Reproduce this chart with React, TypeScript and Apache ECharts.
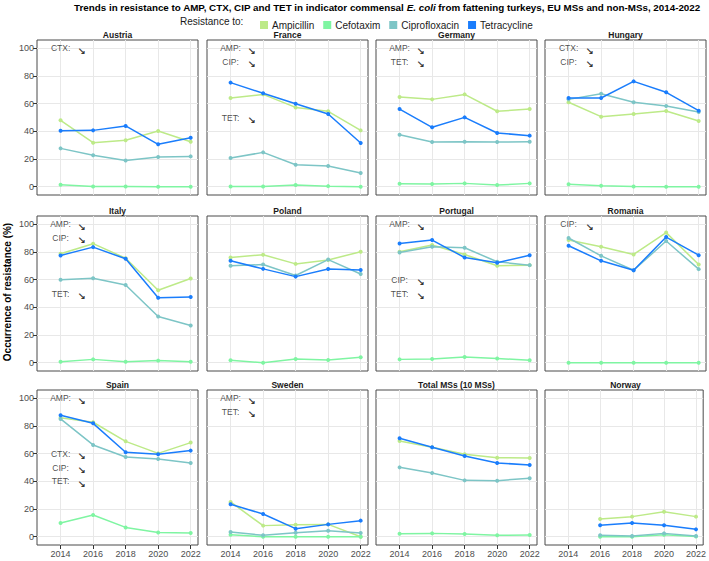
import React, { useEffect, useRef } from "react";
import * as echarts from "echarts";

const years = [2014, 2016, 2018, 2020, 2022];
const countries = [
  "Austria", "France", "Germany", "Hungary",
  "Italy", "Poland", "Portugal", "Romania",
  "Spain", "Sweden", "Total MSs (10 MSs)", "Norway",
];
const yTicks = [0, 20, 40, 60, 80, 100];

// values per country, order as in countries
const ampicillin: (number | null)[][] = [
  [48.0, 31.8, 33.5, 40.2, 32.5],
  [64.1, 66.7, 57.3, 54.5, 40.7],
  [64.8, 63.1, 66.7, 54.5, 56.1],
  [61.0, 50.6, 52.5, 54.7, 47.5],
  [78.7, 86.0, 75.5, 52.3, 60.8],
  [76.0, 78.0, 71.4, 74.2, 80.2],
  [80.1, 85.0, 78.2, 70.0, 70.5],
  [88.6, 83.8, 78.2, 94.0, 70.9],
  [86.0, 82.7, 68.9, 60.2, 68.0],
  [25.1, 8.0, 8.7, 8.9, 0],
  [69.2, 64.6, 59.5, 57.1, 56.9],
  [null, 12.8, 14.5, 18.1, 14.5],
];
const cefotaxim: (number | null)[][] = [
  [1.4, 0.2, 0.2, 0, 0],
  [0.2, 0.2, 1.2, 0.4, 0],
  [2.2, 1.9, 2.4, 1.2, 2.4],
  [1.7, 0.7, 0.2, 0, 0],
  [0.7, 2.4, 0.7, 1.5, 0.7],
  [1.7, 0, 2.7, 1.9, 3.9],
  [2.4, 2.7, 4.1, 3.1, 1.7],
  [0, 0, 0, 0, 0],
  [9.9, 15.7, 6.7, 3.1, 2.7],
  [1.4, 0, 0, 0, 0],
  [2.2, 2.4, 1.9, 1.0, 1.2],
  [null, 0, 0, 1.4, 0.2],
];
const ciprofloxacin: (number | null)[][] = [
  [27.7, 22.7, 19.0, 21.4, 21.9],
  [20.7, 24.8, 15.9, 14.9, 9.9],
  [37.6, 32.3, 32.5, 32.3, 32.5],
  [63.1, 67.2, 61.0, 58.3, 54.0],
  [60.0, 61.0, 56.2, 33.4, 26.9],
  [70.0, 70.9, 63.0, 74.5, 64.1],
  [79.7, 83.8, 83.1, 72.9, 70.5],
  [90.1, 77.2, 66.8, 87.9, 67.6],
  [85.1, 66.3, 57.6, 56.1, 53.3],
  [3.4, 1.0, 2.9, 4.3, 2.7],
  [50.1, 46.0, 40.7, 40.5, 42.2],
  [null, 1.0, 0.5, 2.4, 0.5],
];
const tetracycline: (number | null)[][] = [
  [40.5, 40.7, 43.9, 30.6, 35.4],
  [75.2, 67.5, 60.0, 52.5, 31.6],
  [56.1, 42.9, 50.1, 38.8, 36.9],
  [64.1, 64.1, 76.1, 68.2, 54.9],
  [77.5, 83.5, 75.1, 47.0, 47.5],
  [73.6, 67.8, 62.2, 67.7, 67.0],
  [86.2, 88.6, 76.0, 72.2, 77.7],
  [84.5, 73.6, 66.8, 90.8, 77.7],
  [87.7, 81.9, 61.0, 59.5, 62.2],
  [23.4, 16.4, 5.8, 8.9, 11.6],
  [71.1, 64.6, 58.3, 53.3, 51.8],
  [null, 8.2, 9.9, 8.2, 5.3],
];
// trend annotations: [label, y position]
const annotations: [string, number][][] = [
  [["CTX:", 100]],
  [["AMP:", 100], ["CIP:", 90], ["TET:", 50]],
  [["AMP:", 100], ["TET:", 90]],
  [["CTX:", 100], ["CIP:", 90]],
  [["AMP:", 100], ["CIP:", 90], ["TET:", 50]],
  [],
  [["AMP:", 100], ["CIP:", 60], ["TET:", 50]],
  [["CIP:", 100]],
  [["AMP:", 100], ["CTX:", 60], ["CIP:", 50], ["TET:", 40]],
  [["AMP:", 100], ["TET:", 90]],
  [],
  [],
];
const seriesNames = ["Ampicillin", "Cefotaxim", "Ciprofloxacin", "Tetracycline"];
const seriesColors = ["#bdea88", "#7ff5a2", "#7dc5c6", "#1a7dfc"];

const FONT = "'Liberation Sans', Arial, Helvetica, sans-serif";
const colLeft = [37, 207, 376, 545];
const rowTop = [40, 216, 390];
const PW = 161;
const PH = 155;

export default function App() {
  const ref = useRef<HTMLDivElement>(null);
  useEffect(() => {
    if (!ref.current) return;
    const chart = echarts.init(ref.current, null, { renderer: "svg" });
    const grids: any[] = [];
    const xAxes: any[] = [];
    const yAxes: any[] = [];
    const series: any[] = [];
    const graphics: any[] = [];
    const allData = [ampicillin, cefotaxim, ciprofloxacin, tetracycline];

    countries.forEach((name, i) => {
      const r = Math.floor(i / 4);
      const c = i % 4;
      const left = colLeft[c];
      const top = rowTop[r];
      grids.push({
        left, top, width: PW, height: PH,
        show: true, borderColor: "#4a4a4a", borderWidth: 1, backgroundColor: "#fff",
        containLabel: false,
      });
      const bottomRow = r === 2;
      const leftCol = c === 0;
      xAxes.push({
        type: "value", gridIndex: i, min: 2012.55, max: 2022.45,
        axisLine: { show: false, onZero: false },
        axisTick: { show: bottomRow, length: 4, lineStyle: { color: "#333" }, customValues: years },
        axisLabel: { show: bottomRow, customValues: years, color: "#4d4d4d", fontSize: 9, fontFamily: FONT, margin: 4, formatter: (v: number) => String(v) },
        splitLine: { show: true, lineStyle: { color: "#e8e8e8", width: 1 } },
      });
      yAxes.push({
        type: "value", gridIndex: i, min: -6, max: 106,
        axisLine: { show: false, onZero: false },
        axisTick: { show: leftCol, length: 4, lineStyle: { color: "#333" }, customValues: yTicks },
        axisLabel: { show: leftCol, customValues: yTicks, color: "#4d4d4d", fontSize: 9, fontFamily: FONT, margin: 3 },
        splitLine: { show: true, lineStyle: { color: "#e8e8e8", width: 1 } },
      });
      allData.forEach((arr, k) => {
        series.push({
          name: seriesNames[k], type: "line", xAxisIndex: i, yAxisIndex: i,
          data: years.map((y, j) => [y, arr[i][j]]),
          connectNulls: false,
          symbol: "circle", symbolSize: 4, showSymbol: true,
          lineStyle: { color: seriesColors[k], width: 1.5 },
          itemStyle: { color: seriesColors[k] },
          z: 2 + k,
        });
      });
      const ann = annotations[i];
      if (ann.length) {
        series.push({
          type: "scatter", xAxisIndex: i, yAxisIndex: i, silent: true,
          symbol: "circle", symbolSize: 1, itemStyle: { color: "rgba(0,0,0,0)" },
          data: ann.map(([t, v]) => ({ value: [2014, v], name: t })),
          label: { show: true, position: "inside", formatter: (p: any) => p.name, color: "#1a1a1a", fontSize: 8.5, fontFamily: FONT },
          z: 10,
        });
        series.push({
          type: "scatter", xAxisIndex: i, yAxisIndex: i, silent: true,
          symbol: "circle", symbolSize: 1, itemStyle: { color: "rgba(0,0,0,0)" },
          data: ann.map(([t, v]) => ({ value: [2015.3, v - 2], name: "\u2198" })),
          label: { show: true, position: "inside", formatter: (p: any) => p.name, color: "#000", fontSize: 10, fontWeight: "bold", fontFamily: "'DejaVu Sans', sans-serif" },
          z: 10,
        });
      }
      graphics.push({
        type: "text", x: left + PW / 2, y: top - 5.5,
        style: { text: name, fontFamily: FONT, fontSize: 8.5, fontWeight: "bold", fill: "#1a1a1a", textAlign: "center", textVerticalAlign: "middle", align: "center", verticalAlign: "middle" },
      });
    });

    graphics.push({
      type: "text", x: 387, y: 7,
      style: {
        text: "{b|Trends in resistance to AMP, CTX, CIP and TET in indicator commensal }{i|E. coli}{b| from fattening turkeys, EU MSs and non-MSs, 2014-2022}",
        rich: {
          b: { fontFamily: FONT, fontSize: 9.8, fontWeight: "bold", fill: "#000", color: "#000" },
          i: { fontFamily: FONT, fontSize: 9.8, fontWeight: "bold", fontStyle: "italic", fill: "#000", color: "#000" },
        },
        textAlign: "center", textVerticalAlign: "middle", align: "center", verticalAlign: "middle",
      },
    });
    graphics.push({
      type: "text", x: 180, y: 21,
      style: { text: "Resistance to:", fontFamily: FONT, fontSize: 10, fill: "#1a1a1a", textAlign: "left", textVerticalAlign: "middle", align: "left", verticalAlign: "middle" },
    });
    graphics.push({
      type: "text", x: 7, y: 292, rotation: Math.PI / 2,
      style: { text: "Occurrence of resistance (%)", fontFamily: FONT, fontSize: 10, fontWeight: "bold", fill: "#000", textAlign: "center", textVerticalAlign: "middle", align: "center", verticalAlign: "middle" },
    });

    chart.setOption({
      animation: false,
      backgroundColor: "#fff",
      grid: grids,
      xAxis: xAxes,
      yAxis: yAxes,
      series,
      legend: {
        data: seriesNames.map((n, k) => ({ name: n, itemStyle: { color: seriesColors[k] } })),
        left: 255, top: 15, itemWidth: 8, itemHeight: 8, itemGap: 9, icon: "rect",
        textStyle: { fontFamily: FONT, fontSize: 10, color: "#1a1a1a", padding: [0, 0, 0, -1] },
        selectedMode: false,
      },
      graphic: graphics,
    });
    return () => chart.dispose();
  }, []);
  return <div ref={ref} style={{ position: "fixed", left: 0, top: 0, width: 709, height: 561 }} />;
}
